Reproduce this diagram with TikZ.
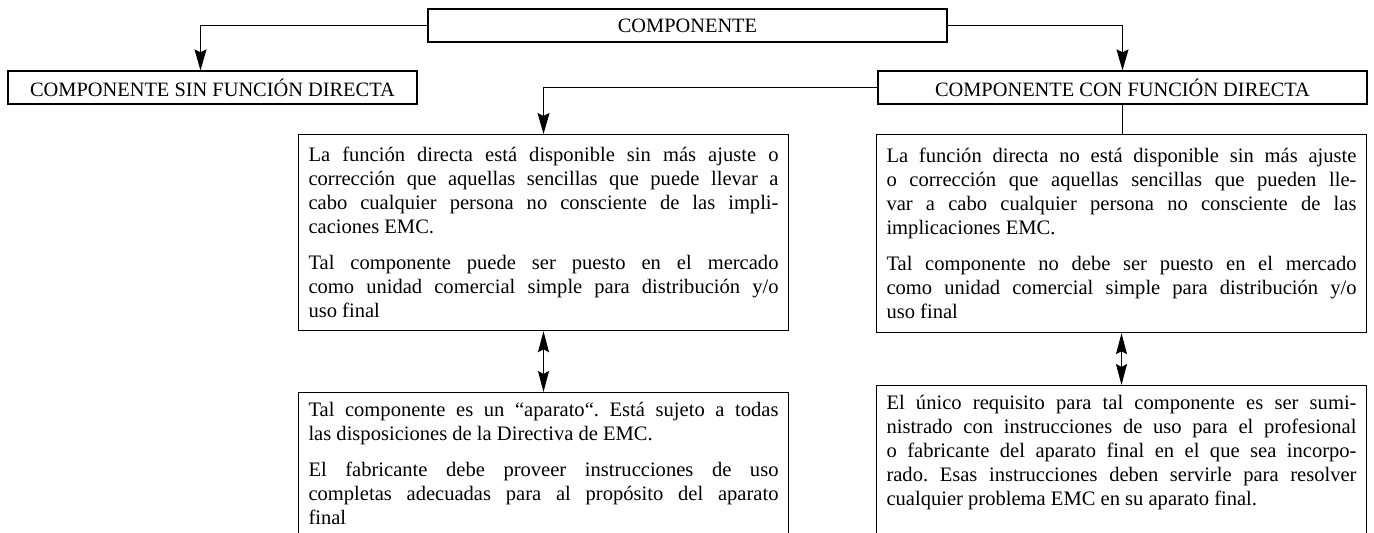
\documentclass[tikz,border=0pt]{standalone}
\usepackage{fontspec}
\setmainfont{Liberation Serif}
\usetikzlibrary{arrows.meta, positioning}
\setlength{\parindent}{0pt}
\tolerance=9999
\hbadness=10000
\frenchspacing
\newcommand{\entrepar}{\par\vspace{0.24cm}}

\begin{document}
\begin{tikzpicture}[
  every node/.style={align=center},
  % Title boxes (single line)
  head/.style={rectangle, draw=black, line width=0.7pt, minimum height=0.66cm, inner sep=0pt, font=\fontsize{11.6}{13}\selectfont},
  % Text boxes (paragraphs)
  txt/.style={rectangle, draw=black, line width=0.7pt, anchor=north, text width=9.4cm, inner xsep=0.2cm, inner ysep=0.2cm, align=justify, font=\fontsize{11.7}{13.66}\selectfont},
  % Connectors
  arr/.style={line width=0.6pt, -{Stealth[length=4.2mm, width=2.4mm, inset=0.6mm]}},
  darr/.style={line width=0.6pt, {Stealth[length=4.2mm, width=2.2mm, inset=0.6mm]}-{Stealth[length=4.2mm, width=2.2mm, inset=0.6mm]}},
  conn/.style={line width=0.6pt}
]

\useasboundingbox (0,0) rectangle (27.48,-10.66);
\clip (0,0) rectangle (27.48,-10.66);

% === LEVEL 0: Component ===
\node[head, minimum width=10.38cm] (comp) at (13.75,-0.51) {COMPONENTE};

% === LEVEL 1: With / without direct function ===
\node[head, minimum width=8.18cm] (sin) at (4.25,-1.75) {COMPONENTE SIN FUNCIÓN DIRECTA};
\node[head, minimum width=9.78cm] (con) at (22.45,-1.75) {COMPONENTE CON FUNCIÓN DIRECTA};

% Edges: Component -> kinds
\draw[arr] (comp.west) -| ([xshift=-0.24cm]sin.north);
\draw[arr] (comp.east) -| (con.north);

% === LEVEL 2: Availability of the function ===
\node[txt, minimum height=3.92cm] (lmid) at (10.87,-2.68) {%
La función directa está disponible sin más ajuste o\linebreak
corrección que aquellas sencillas que puede llevar a\linebreak
cabo cualquier persona no consciente de las impli-\linebreak
caciones EMC.\entrepar
Tal componente puede ser puesto en el mercado\linebreak
como unidad comercial simple para distribución y/o\linebreak
uso final};
\node[txt, minimum height=3.96cm] (rmid) at (22.43,-2.68) {%
La función directa no está disponible sin más ajuste\linebreak
o corrección que aquellas sencillas que pueden lle-\linebreak
var a cabo cualquier persona no consciente de las\linebreak
implicaciones EMC.\entrepar
Tal componente no debe ser puesto en el mercado\linebreak
como unidad comercial simple para distribución y/o\linebreak
uso final};

% Edges: kind -> availability
\draw[arr] (con.west) -| (lmid.north);
\draw[conn] (con.south) -- (con.south |- rmid.north);

% === LEVEL 3: Consequences ===
\node[txt] (lbot) at (10.87,-7.84) {%
Tal componente es un “aparato“. Está sujeto a todas\linebreak
las disposiciones de la Directiva de EMC.\entrepar
El fabricante debe proveer instrucciones de uso\linebreak
completas adecuadas para al propósito del aparato\linebreak
final\par\rule{0pt}{1cm}};
\node[txt] (rbot) at (22.43,-7.70) {%
El único requisito para tal componente es ser sumi-\linebreak
nistrado con instrucciones de uso para el profesional\linebreak
o fabricante del aparato final en el que sea incorpo-\linebreak
rado. Esas instrucciones deben servirle para resolver\linebreak
cualquier problema EMC en su aparato final.\par\rule{0pt}{1.5cm}};

% Edges: availability <-> consequence
\draw[darr] (lmid.south) -- (lbot.north);
\draw[darr] (rmid.south) -- (rbot.north);

\end{tikzpicture}
\end{document}
